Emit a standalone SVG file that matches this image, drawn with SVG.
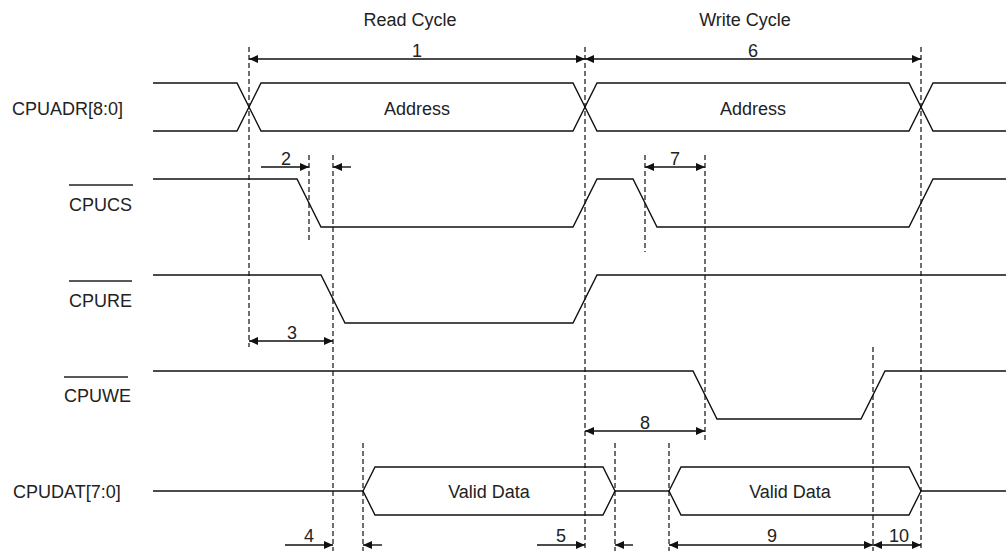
<svg xmlns="http://www.w3.org/2000/svg" width="1006" height="552" viewBox="0 0 1006 552">
<style>
.sig{fill:none;stroke:#111;stroke-width:1.4;stroke-linejoin:miter}
.guide{fill:none;stroke:#333;stroke-width:1.4;stroke-dasharray:5 3}
.dim{fill:none;stroke:#111;stroke-width:1.4}
.lbl{font-family:"Liberation Sans",Arial,sans-serif;font-size:18px;fill:#222}
.num{font-family:"Liberation Sans",Arial,sans-serif;font-size:18px;fill:#222;text-anchor:middle}
.ovl{stroke:#222;stroke-width:1.4}
</style>
<defs>
<marker id="ah" viewBox="0 0 9 8" markerWidth="9" markerHeight="8" refX="9" refY="4" orient="auto-start-reverse" markerUnits="userSpaceOnUse">
<path d="M0,0 L9,4 L0,8 z" fill="#111"/>
</marker>
</defs>
<rect width="1006" height="552" fill="#fff"/>

<g id="titles">
<text class="num" x="410" y="25.5">Read Cycle</text>
<text class="num" x="745" y="25.5">Write Cycle</text>
</g>

<g id="guides">
<line class="guide" x1="249" y1="47" x2="249" y2="347"/>
<line class="guide" x1="309" y1="155" x2="309" y2="240"/>
<line class="guide" x1="333" y1="155" x2="333" y2="551"/>
<line class="guide" x1="585" y1="47" x2="585" y2="551"/>
<line class="guide" x1="645" y1="155" x2="645" y2="252"/>
<line class="guide" x1="705" y1="155" x2="705" y2="443"/>
<line class="guide" x1="921" y1="47" x2="921" y2="551"/>
<line class="guide" x1="873" y1="347" x2="873" y2="551"/>
<line class="guide" x1="363" y1="443" x2="363" y2="551"/>
<line class="guide" x1="615" y1="443" x2="615" y2="551"/>
<line class="guide" x1="669" y1="443" x2="669" y2="551"/>
</g>

<g id="cpuadr">
<text class="lbl" x="12" y="114.5">CPUADR[8:0]</text>
<path class="sig" d="M153,83 H237 L261,131 H573 L597,83 H909 L933,131 H1006"/>
<path class="sig" d="M153,131 H237 L261,83 H573 L597,131 H909 L933,83 H1006"/>
<text class="num" x="417" y="114.5">Address</text>
<text class="num" x="753" y="114.5">Address</text>
</g>

<g id="cpucs">
<line class="ovl" x1="69" y1="185" x2="133" y2="185"/>
<text class="lbl" x="69" y="210.5">CPUCS</text>
<path class="sig" d="M153,179 H297 L321,227 H573 L597,179 H633 L657,227 H909 L933,179 H1006"/>
</g>

<g id="cpure">
<line class="ovl" x1="69" y1="281" x2="132" y2="281"/>
<text class="lbl" x="69" y="306.5">CPURE</text>
<path class="sig" d="M153,275 H321 L345,323 H573 L597,275 H1006"/>
</g>

<g id="cpuwe">
<line class="ovl" x1="64" y1="377" x2="128" y2="377"/>
<text class="lbl" x="64" y="402">CPUWE</text>
<path class="sig" d="M153,371 H693 L717,419 H861 L885,371 H1006"/>
</g>

<g id="cpudat">
<text class="lbl" x="13" y="498">CPUDAT[7:0]</text>
<path class="sig" d="M153,491 H363"/>
<path class="sig" d="M363,491 L375,467 H603 L615,491 L603,515 H375 Z"/>
<path class="sig" d="M615,491 H669"/>
<path class="sig" d="M669,491 L681,467 H909 L921,491 L909,515 H681 Z"/>
<path class="sig" d="M921,491 H1006"/>
<text class="num" x="489" y="497.5">Valid Data</text>
<text class="num" x="790" y="497.5">Valid Data</text>
</g>

<g id="connectors">
<line class="dim" x1="249" y1="59" x2="585" y2="59" marker-start="url(#ah)" marker-end="url(#ah)"/>
<line class="dim" x1="585" y1="59" x2="921" y2="59" marker-start="url(#ah)" marker-end="url(#ah)"/>
<line class="dim" x1="261" y1="167" x2="309" y2="167" marker-end="url(#ah)"/>
<line class="dim" x1="351" y1="167" x2="333" y2="167" marker-end="url(#ah)"/>
<line class="dim" x1="645" y1="167" x2="705" y2="167" marker-start="url(#ah)" marker-end="url(#ah)"/>
<line class="dim" x1="249" y1="341" x2="333" y2="341" marker-start="url(#ah)" marker-end="url(#ah)"/>
<line class="dim" x1="585" y1="431" x2="705" y2="431" marker-start="url(#ah)" marker-end="url(#ah)"/>
<line class="dim" x1="285" y1="545" x2="333" y2="545" marker-end="url(#ah)"/>
<line class="dim" x1="382" y1="545" x2="363" y2="545" marker-end="url(#ah)"/>
<line class="dim" x1="537" y1="545" x2="585" y2="545" marker-end="url(#ah)"/>
<line class="dim" x1="633" y1="545" x2="615" y2="545" marker-end="url(#ah)"/>
<line class="dim" x1="669" y1="545" x2="873" y2="545" marker-start="url(#ah)" marker-end="url(#ah)"/>
<line class="dim" x1="873" y1="545" x2="921" y2="545" marker-start="url(#ah)" marker-end="url(#ah)"/>
</g>

<g id="dim-labels">
<text class="num" x="417" y="57">1</text>
<text class="num" x="753" y="57">6</text>
<text class="num" x="286" y="164.5">2</text>
<text class="num" x="675" y="164.5">7</text>
<text class="num" x="292" y="339">3</text>
<text class="num" x="645" y="429">8</text>
<text class="num" x="309" y="542">4</text>
<text class="num" x="561" y="542">5</text>
<text class="num" x="772" y="542">9</text>
<text class="num" x="899" y="542">10</text>
</g>
</svg>
